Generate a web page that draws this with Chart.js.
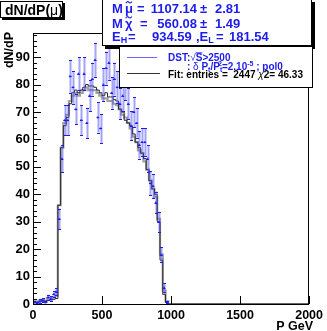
<!DOCTYPE html>
<html><head><meta charset="utf-8">
<script src="https://cdn.jsdelivr.net/npm/chart.js@4.4.0/dist/chart.umd.min.js"></script>
<style>html,body{margin:0;padding:0;background:#fff;overflow:hidden}canvas{display:block}</style>
</head><body>
<canvas id="c" width="327" height="331"></canvas>
<script>
// ---- data ----
const binCenters = [10,30,50,70,90,110,130,150,170,190,210,230,250,270,290,310,330,350,370,390,
  410,430,450,470,490,510,530,550,570,590,610,630,650,670,690,710,730,750,770,790,
  810,830,850,870,890,910,930,950,970,990];
const binHalfWidth = 10;
const dataValues = [0.6,0.3,1.0,1.4,0.6,2.4,2.0,3.6,4.5,31,53,67,67,83,79,71,84,67,84,66,
  76,82,89,68,64,80,86,88,77,82,79,73,76,80,73,65,70,66,58,59,
  59,53,44,43,37,30,18,6,0.7,null];
const dataErrors = [0.5,0.4,0.7,0.8,0.5,1.0,0.9,1.2,1.4,3.8,5.0,5.5,5.5,6.0,6.0,5.5,6.0,5.5,6.0,5.5,
  5.8,6.0,6.2,5.5,5.3,6.0,6.0,6.2,5.8,6.0,5.8,5.6,5.8,5.8,5.6,5.3,5.5,5.3,5.0,5.0,
  5.0,4.8,4.4,4.3,4.0,3.6,2.8,1.6,0.5,0];
const fitValues = [0.6,0.7,0.8,1.0,1.1,1.3,1.5,1.7,2.0,36,57,65,68,73,77,78,77,78,79,80,
  79.5,79.5,79,78,77,76,77,75.5,75.5,74.5,74,71,70,67,66,65,62,59,57,55,
  53,49,45,42,40,30,16,3.5,0.5,0];
const histValues = [1.0,0.6,1.2,1.5,0.8,2.2,1.8,2.5,3.0,36,57,66,69,74,76,77,76,77,78,79,
  78,78,78,77,76,75,75,74,74,73,72.5,71,69,68,66,64,61,59,56,55,
  52,49,45,42,39,31,18,5,1,0];
const xTicks = [0,500,1000,1500,2000];
const yTicks = [0,10,20,30,40,50,60,70,80,90];
const xRange = [0,2000];
const yRange = [0,98.8];

function steps(vals){
  const pts=[{x:binCenters[0]-binHalfWidth,y:0}];
  vals.forEach((v,i)=>pts.push({x:binCenters[i]-binHalfWidth,y:v}));
  const last=binCenters[binCenters.length-1]+binHalfWidth;
  pts.push({x:last,y:0});
  pts.push({x:xRange[1],y:0});
  return pts;
}
const pointData = binCenters.map((c,i)=>({x:c,y:dataValues[i]})).filter(p=>p.y!==null);

const BLUE='#1c1cf0';
const FAM='"Liberation Sans", Arial, sans-serif';
function rich(ctx,x,y,segs,color){
  ctx.save();ctx.fillStyle=color;ctx.strokeStyle=color;ctx.textBaseline='alphabetic';
  for(const s of segs){
    ctx.font=(s.w||'bold')+' '+(s.size)+'px '+FAM;
    let w=ctx.measureText(s.t).width;
    if(s.x!==undefined) x=s.x;
    if(s.rx!==undefined) x=s.rx-w;
    ctx.textAlign='left';
    ctx.fillText(s.t,x,y+(s.dy||0));
    if(s.over){ctx.fillRect(x,y-s.size*0.86,w,1);}
    if(s.tilde){
      const cx=x+w/2, ty=y-s.size*0.82;
      ctx.lineWidth=1.2;
      ctx.beginPath();
      ctx.moveTo(cx-3,ty+0.8);
      ctx.quadraticCurveTo(cx-1.5,ty-1.6,cx,ty);
      ctx.quadraticCurveTo(cx+1.5,ty+1.6,cx+3,ty-0.8);
      ctx.stroke();
    }
    x+=w;
  }
  ctx.restore();
}
function boxShadow(ctx,x,y,w,h,sh){
  ctx.save();
  ctx.fillStyle='#000';ctx.fillRect(x+sh,y+sh,w,h);
  ctx.fillStyle='#fff';ctx.fillRect(x,y,w,h);
  ctx.strokeStyle='#000';ctx.lineWidth=1;ctx.strokeRect(x+0.5,y+0.5,w-1,h-1);
  ctx.restore();
}

const decor={
  id:'decor',
  afterDatasetsDraw(chart){
    const ctx=chart.ctx, xs=chart.scales.x, ys=chart.scales.y, a=chart.chartArea;
    // error bars
    ctx.save();
    ctx.beginPath();ctx.rect(a.left,a.top,a.right-a.left,a.bottom-a.top);ctx.clip();
    binCenters.forEach((c,i)=>{
      const v=dataValues[i]; if(v===null) return;
      const e=dataErrors[i];
      const px=Math.round(xs.getPixelForValue(c))+0.5;
      const y1=ys.getPixelForValue(v-e), y2=ys.getPixelForValue(v+e);
      ctx.strokeStyle='rgba(90,90,255,0.55)';ctx.lineWidth=2;
      ctx.beginPath();ctx.moveTo(px,y1);ctx.lineTo(px,y2);ctx.stroke();
      ctx.strokeStyle=BLUE;ctx.lineWidth=1;
      ctx.beginPath();
      ctx.moveTo(px-1.5,Math.round(y1)+0.5);ctx.lineTo(px+1.5,Math.round(y1)+0.5);
      ctx.moveTo(px-1.5,Math.round(y2)+0.5);ctx.lineTo(px+1.5,Math.round(y2)+0.5);
      const xl=xs.getPixelForValue(c-binHalfWidth), xr=xs.getPixelForValue(c+binHalfWidth);
      const yc=Math.round(ys.getPixelForValue(v))+0.5;
      ctx.moveTo(xl,yc);ctx.lineTo(xr,yc);
      ctx.stroke();
    });
    ctx.restore();
    // frame
    ctx.save();
    ctx.strokeStyle='#000';ctx.lineWidth=1;
    ctx.strokeRect(Math.round(a.left)+0.5,Math.round(a.top)+0.5,Math.round(a.right-a.left)-1,Math.round(a.bottom-a.top));
    ctx.beginPath();
    for(let v=0; v<=yRange[1]; v+=2){
      const py=Math.round(ys.getPixelForValue(v))+0.5;
      const major = yTicks.includes(v);
      ctx.moveTo(a.left,py);ctx.lineTo(a.left+(major?8:4),py);
    }
    xTicks.forEach(v=>{
      const px=Math.round(xs.getPixelForValue(v))+0.5;
      ctx.moveTo(px,a.bottom);ctx.lineTo(px,a.bottom-8);
    });
    ctx.stroke();
    ctx.restore();
  },
  afterDraw(chart){
    const ctx=chart.ctx;
    // title box
    boxShadow(ctx,0,1,63,17,2);
    rich(ctx,5,15,[{t:'dN/dP(',size:14},{t:'μ',size:14,w:'normal'},{t:')',size:14}],'#000');
    // stat box
    boxShadow(ctx,102,-1,210,47,3);
    const S=13;
    rich(ctx,112,13,[{t:'M',size:S},{t:'μ',size:S,x:125,tilde:true},{t:'=',size:S,x:137},{t:'1107.14',size:S,rx:197},{t:'±',size:S,x:200},{t:'2.81',size:S,x:215}],BLUE);
    rich(ctx,112,28,[{t:'M',size:S},{t:'χ',size:S,x:125,tilde:true},{t:'=',size:S,x:140},{t:'560.08',size:S,rx:197},{t:'±',size:S,x:200},{t:'1.49',size:S,x:215}],BLUE);
    rich(ctx,112,41,[{t:'E',size:S},{t:'H',size:9,dy:2},{t:'=',size:S,x:128},{t:'934.59',size:S,x:152},{t:',E',size:S,x:196},{t:'L',size:9,dy:2},{t:'=',size:S,x:216},{t:'181.54',size:S,x:229}],BLUE);
    // legend
    ctx.save();
    ctx.fillStyle='#fff';ctx.fillRect(119,47,194,41);
    ctx.strokeStyle='#000';ctx.lineWidth=1;ctx.strokeRect(119.5,46.5,193,41);
    ctx.strokeStyle='#6a6aff';ctx.beginPath();ctx.moveTo(127,57.5);ctx.lineTo(157,57.5);ctx.stroke();
    ctx.strokeStyle='#333';ctx.beginPath();ctx.moveTo(127,73.5);ctx.lineTo(160,73.5);ctx.stroke();
    ctx.restore();
    rich(ctx,168,61,[{t:'DST:',size:10},{t:'√',size:10,w:'normal'},{t:'S',size:10,over:true},{t:'>2500',size:10}],BLUE);
    rich(ctx,187,70,[{t:': ',size:10},{t:'δ',size:10,w:'normal'},{t:' P',size:10},{t:'t',size:7,dy:2},{t:'/P',size:10},{t:'t',size:7,dy:2},{t:'2',size:7,dy:-4,x:218},{t:'=2.10',size:10},{t:'-5',size:7,dy:-4},{t:' ; pol0',size:10}],BLUE);
    rich(ctx,168,78,[{t:'Fit: entries =  2447 ',size:10},{t:'χ',size:10,w:'italic'},{t:'2= 46.33',size:10}],'#000');
    // axis titles
    ctx.save();
    ctx.font='bold 12.5px '+FAM;ctx.fillStyle='#000';
    ctx.textAlign='right';ctx.textBaseline='alphabetic';
    ctx.fillText('P GeV',313,330);
    ctx.translate(13,32);ctx.rotate(-Math.PI/2);
    ctx.fillText('dN/dP',0,0);
    ctx.restore();
  }
};

new Chart(document.getElementById('c'),{
  data:{datasets:[
    {type:'scatter',data:pointData,pointStyle:'rect',pointRadius:1.3,pointBackgroundColor:BLUE,pointBorderWidth:0,showLine:false},
    {type:'line',data:steps(fitValues),stepped:true,borderColor:'#2a2a2a',borderWidth:1,pointRadius:0,fill:false},
    {type:'line',data:steps(histValues),stepped:true,borderColor:'#a0a0a0',borderWidth:2.2,pointRadius:0,fill:false}
  ]},
  options:{
    responsive:false,animation:false,devicePixelRatio:1,
    layout:{padding:{top:33,right:14,left:0,bottom:0}},
    plugins:{legend:{display:false},title:{display:false},tooltip:{enabled:false}},
    scales:{
      x:{type:'linear',min:xRange[0],max:xRange[1],
        afterBuildTicks:s=>{s.ticks=xTicks.map(v=>({value:v}));},
        afterFit:s=>{s.height=27;},
        grid:{display:false,drawTicks:false},border:{display:false},
        ticks:{color:'#000',font:{family:FAM,weight:'bold',size:12.5},padding:4,maxRotation:0,autoSkip:false,callback:v=>String(v)}},
      y:{type:'linear',min:yRange[0],max:yRange[1],
        afterBuildTicks:s=>{s.ticks=yTicks.map(v=>({value:v}));},
        afterFit:s=>{s.width=33;},
        grid:{display:false,drawTicks:false},border:{display:false},
        ticks:{color:'#000',font:{family:FAM,weight:'bold',size:13},padding:3,autoSkip:false,callback:v=>String(v)}}
    }
  },
  plugins:[decor]
});
</script>
</body></html>
